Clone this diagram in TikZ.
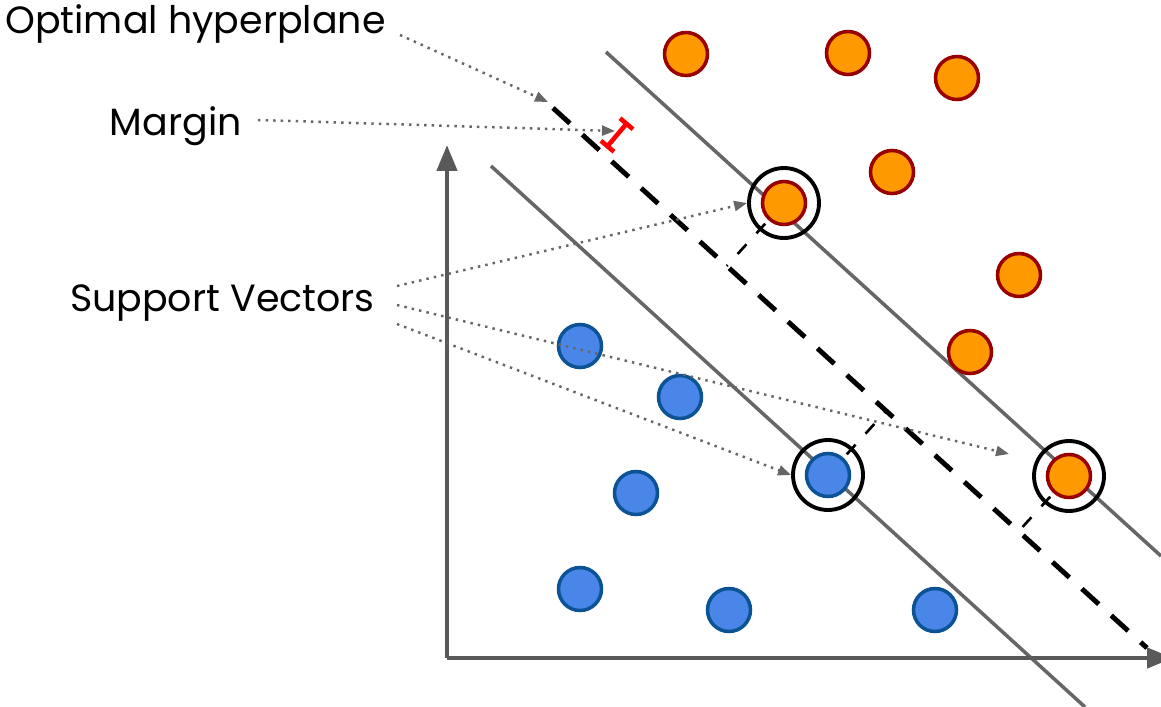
\documentclass[tikz,border=0pt]{standalone}
\usepackage{fontspec}
\setmainfont{Poppins}
\usetikzlibrary{arrows.meta,calc}
\definecolor{ptorange}{HTML}{FF9900}
\definecolor{ptred}{HTML}{990000}
\definecolor{ptblue}{HTML}{4A86E8}
\definecolor{ptdarkblue}{HTML}{0B5394}
\definecolor{linegray}{HTML}{666666}
\definecolor{axisgray}{HTML}{595959}
\begin{document}
\begin{tikzpicture}[x=0.02cm, y=-0.02cm,
    point/.style={circle, minimum size=0.86cm, inner sep=0pt, line width=2pt},
    orangept/.style={point, fill=ptorange, draw=ptred},
    bluept/.style={point, fill=ptblue, draw=ptdarkblue},
    svring/.style={circle, draw=black, line width=2.2pt, minimum size=1.4cm, inner sep=0pt},
    marginline/.style={linegray, line width=2pt},
    hyperplane/.style={black, line width=2.8pt, dash pattern=on 13pt off 9.6pt},
    perp/.style={black, line width=1.5pt, dash pattern=on 7.4pt off 8.5pt},
    axis/.style={axisgray, line width=2.6pt, -{Triangle[length=0.52cm, width=0.4cm]}},
    marginbar/.style={red, line width=2.6pt, {Bar[width=0.34cm]}-{Bar[width=0.34cm]}},
    pointer/.style={linegray, line width=1.4pt, dash pattern=on 1.4pt off 2.9pt, -{Triangle[length=0.26cm, width=0.2cm]}},
    label/.style={font=\fontsize{21.6}{26}\selectfont, inner sep=0pt}]
\useasboundingbox (0,0) rectangle (1161,707);

% margin lines
\draw[marginline] (606,52) -- (1161,556);
\draw[marginline] (491,166) -- (1085,707);

% optimal hyperplane
\coordinate (hpA) at (553,108);
\coordinate (hpB) at (1147,648);
\draw[hyperplane] (hpA) -- (hpB);

% support vector centres and their distance to the hyperplane
\coordinate (svA) at (784,203);
\coordinate (svB) at (828,475);
\coordinate (svC) at (1069,476);
\draw[perp] (svA) -- ($(hpA)!(svA)!(hpB)$);
\draw[perp] (svB) -- ($(hpA)!(svB)!(hpB)$);
\draw[perp] (svC) -- ($(hpA)!(svC)!(hpB)$);

% axes
\coordinate (origin) at (447,658);
\draw[axis] (origin) -- (447,145);
\draw[axis] (origin) -- (1173,658);

% class 1
\node[orangept] (o1) at (686,54) {};
\node[orangept] (o2) at (848,53) {};
\node[orangept] (o3) at (957,78) {};
\node[orangept] (o4) at (892,172) {};
\node[orangept] (o5) at (1019,275) {};
\node[orangept] (o6) at (970,352) {};
\node[orangept] (svApt) at (svA) {};
\node[orangept] (svCpt) at (svC) {};

% class 2
\node[bluept] (b1) at (580,346) {};
\node[bluept] (b2) at (680,397) {};
\node[bluept] (b3) at (636,493) {};
\node[bluept] (b4) at (580,589) {};
\node[bluept] (b5) at (729,610) {};
\node[bluept] (b6) at (935,610) {};
\node[bluept] (svBpt) at (svB) {};

% rings round the support vectors
\node[svring] (ringA) at (svA) {};
\node[svring] (ringB) at (svB) {};
\node[svring] (ringC) at (svC) {};

% margin width
\coordinate (mA) at (606,148);
\coordinate (mB) at (628,122);
\draw[marginbar] (mA) -- (mB);

% labels
\node[label, anchor=east] (hyplabel) at (386,24) {Optimal hyperplane};
\node[label, anchor=east] (marginlabel) at (242,126) {Margin};
\node[label, anchor=east] (svlabel) at (375,303) {Support Vectors};

\coordinate (hypfrom) at (400,35);
\coordinate (hypto) at (548,102);
\coordinate (marginfrom) at (258,120);
\coordinate (marginto) at (615,131);
\coordinate (svfromA) at (397,286);
\coordinate (svfromB) at (397,305);
\coordinate (svfromC) at (397,324);
\coordinate (svtoC) at (1009,454);
\draw[pointer] (hypfrom) -- (hypto);
\draw[pointer] (marginfrom) -- (marginto);
\draw[pointer] (svfromA) -- (ringA.west);
\draw[pointer] (svfromB) -- (svtoC);
\draw[pointer] (svfromC) -- (ringB.west);
\end{tikzpicture}
\end{document}
